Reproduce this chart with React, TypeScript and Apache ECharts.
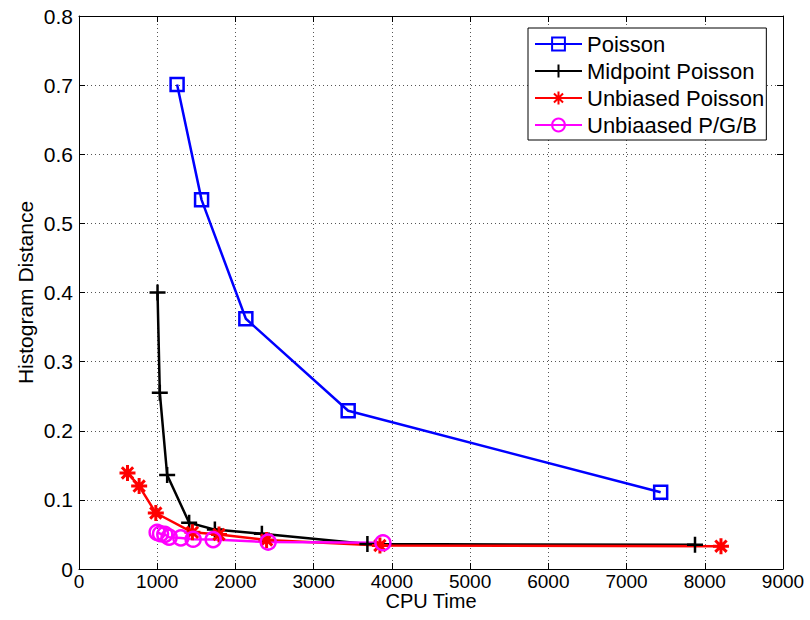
import React, { useEffect, useRef } from "react";
import * as echarts from "echarts";

// CPU time vs. histogram distance for each scheme
const poissonX = [1254, 1567, 2133, 3441, 7436];
const poissonY = [0.701, 0.534, 0.362, 0.229, 0.111];

const midpointX = [1004, 1033, 1127, 1408, 1737, 2338, 3687, 7875];
const midpointY = [0.4, 0.255, 0.136, 0.067, 0.057, 0.051, 0.036, 0.035];

const unbiasedX = [620, 769, 982, 1450, 1790, 2398, 3847, 8207];
const unbiasedY = [0.139, 0.12, 0.081, 0.053, 0.05, 0.042, 0.034, 0.033];

const pgbX = [999, 1042, 1097, 1152, 1302, 1459, 1715, 2418, 3885];
const pgbY = [0.053, 0.051, 0.05, 0.046, 0.045, 0.043, 0.0425, 0.039, 0.038];

const seriesNames = ["Poisson", "Midpoint Poisson", "Unbiased Poisson", "Unbiaased P/G/B"];

const xMin = 0;
const xMax = 9000;
const xStep = 1000;
const yMin = 0;
const yMax = 0.8;
const yStep = 0.1;

const FONT = "'Liberation Sans', Arial, Helvetica, sans-serif";

const PLUS = "path://M0,-10L0,10M-10,0L10,0";
const STAR = "path://M0,-10L0,10M-10,0L10,0M-7.07,-7.07L7.07,7.07M-7.07,7.07L7.07,-7.07";

const pairs = (xs: number[], ys: number[]) => xs.map((x, i) => [x, ys[i]]);

// plain tick labels, no thousands separators
const plain = (v: number) => String(Math.round(v * 1000) / 1000);

export default function App() {
  const ref = useRef<HTMLDivElement>(null);

  useEffect(() => {
    if (!ref.current) return;
    const chart = echarts.init(ref.current, null, { renderer: "svg" });

    const frameAxis = {
      type: "value" as const,
      axisLine: { show: true, onZero: false, lineStyle: { color: "#000", width: 1 } },
      axisTick: { show: true, inside: true, length: 6, lineStyle: { color: "#000" } },
      axisLabel: { show: false },
      splitLine: { show: false },
    };

    const mkSeries = (
      name: string,
      data: number[][],
      color: string,
      symbol: string,
      size: number,
      border: number
    ) => ({
      name,
      type: "line",
      data,
      symbol,
      symbolSize: size,
      showSymbol: true,
      lineStyle: { color, width: 2.5 },
      itemStyle: { color: "none", borderColor: color, borderWidth: border },
      emphasis: { disabled: true },
    });

    chart.setOption({
      animation: false,
      backgroundColor: "#fff",
      textStyle: { fontFamily: FONT },
      grid: {
        left: 79,
        right: 27,
        top: 16,
        bottom: 51,
        containLabel: false,
        outerBoundsMode: "none",
      },
      legend: {
        orient: "vertical",
        left: 528,
        top: 28,
        padding: [5, 2, 4, 6],
        itemGap: 5,
        itemWidth: 47,
        itemHeight: 16,
        itemTextGap: -4,
        backgroundColor: "#fff",
        borderColor: "#000",
        borderWidth: 1,
        borderRadius: 0,
        textStyle: { fontFamily: FONT, fontSize: 22, color: "#000" },
        data: seriesNames,
      },
      xAxis: [
        {
          type: "value",
          min: xMin,
          max: xMax,
          interval: xStep,
          name: "CPU Time",
          nameLocation: "middle",
          nameGap: 22,
          nameMoveOverlap: false,
          nameTextStyle: { fontFamily: FONT, fontSize: 20, color: "#000" },
          axisLine: { show: true, onZero: false, lineStyle: { color: "#000", width: 1 } },
          axisTick: { show: true, inside: true, length: 6, lineStyle: { color: "#000" } },
          axisLabel: { fontFamily: FONT, fontSize: 19, color: "#000", margin: 3, formatter: plain },
          splitLine: { show: true, lineStyle: { color: "#555", type: [1, 3], width: 1 } },
        },
        { ...frameAxis, position: "top", min: xMin, max: xMax, interval: xStep },
      ],
      yAxis: [
        {
          type: "value",
          min: yMin,
          max: yMax,
          interval: yStep,
          name: "Histogram Distance",
          nameLocation: "middle",
          nameGap: 43,
          nameMoveOverlap: false,
          nameTextStyle: { fontFamily: FONT, fontSize: 21, color: "#000" },
          axisLine: { show: true, onZero: false, lineStyle: { color: "#000", width: 1 } },
          axisTick: { show: true, inside: true, length: 6, lineStyle: { color: "#000" } },
          axisLabel: { fontFamily: FONT, fontSize: 21, color: "#000", margin: 6, formatter: plain },
          splitLine: { show: true, lineStyle: { color: "#555", type: [1, 3], width: 1 } },
        },
        { ...frameAxis, position: "right", min: yMin, max: yMax, interval: yStep },
      ],
      series: [
        mkSeries(seriesNames[0], pairs(poissonX, poissonY), "#0000ff", "rect", 13, 2.5),
        mkSeries(seriesNames[1], pairs(midpointX, midpointY), "#000000", PLUS, 16, 2.5),
        mkSeries(seriesNames[2], pairs(unbiasedX, unbiasedY), "#ff0000", STAR, 16, 3),
        mkSeries(seriesNames[3], pairs(pgbX, pgbY), "#ff00ff", "circle", 15, 2.5),
      ],
    });

    return () => chart.dispose();
  }, []);

  return (
    <div
      ref={ref}
      style={{ position: "absolute", left: 0, top: 0, width: 810, height: 620 }}
    />
  );
}
